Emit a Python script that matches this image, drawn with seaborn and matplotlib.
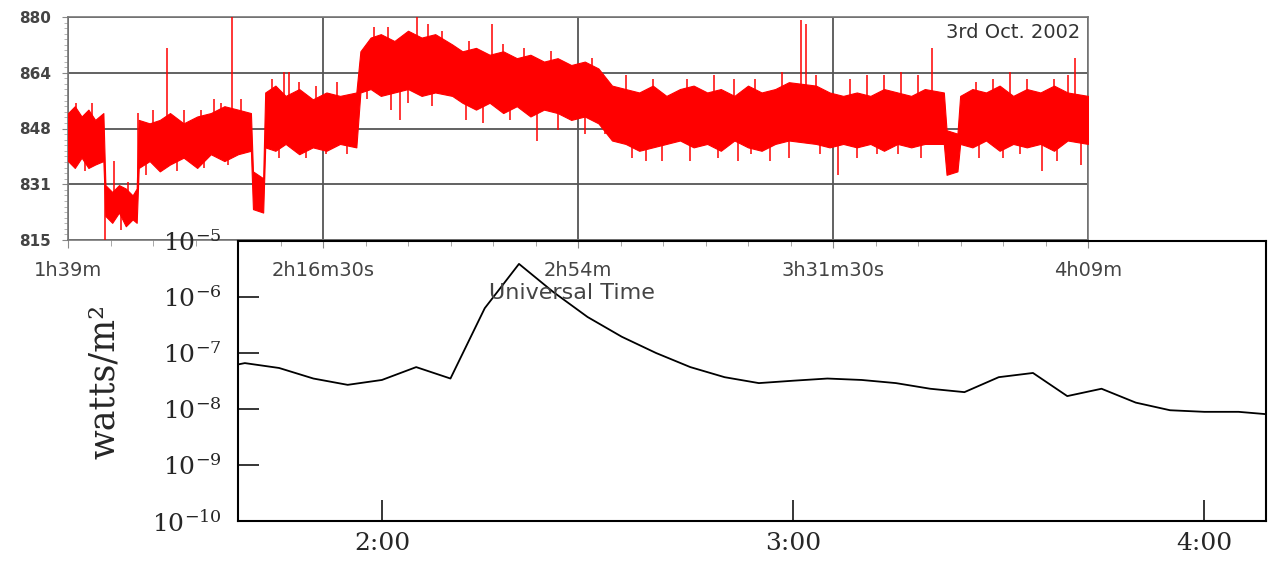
import seaborn as sns
import numpy as np
import matplotlib.pyplot as plt
from matplotlib.ticker import FixedLocator, AutoMinorLocator, LogLocator, NullLocator

sns.set_style("ticks")
plt.rcParams['font.family'] = ['DejaVu Sans']
plt.rcParams['mathtext.fontset'] = 'dejavuserif'

t_band = [99.0, 100.0, 101.0, 102.0, 103.0, 104.2,
          104.5, 105.5, 106.5, 107.5, 108.5, 109.1,
          109.4, 111, 112.5, 114, 116, 118, 120, 122, 124, 125.9,
          126.2, 127.7,
          128.0, 129.5, 131, 133, 135, 137, 139, 141.4,
          142, 143.5, 145, 147, 149, 151, 153, 155.5,
          157, 159, 161, 163, 165, 167, 169, 171, 173, 175, 177,
          179, 181, 183, 185, 187, 189, 191, 193, 195, 197, 199, 201, 203, 205, 209,
          211, 213, 215, 217, 219, 221, 223, 225, 227.8,
          228.2, 229.8,
          230.2, 232, 234, 236, 238, 240, 242, 244, 246, 249]
band_lo = [838, 836, 839, 836, 837, 838,
           822, 820, 823, 819, 821, 820,
           836, 838, 835, 837, 839, 836, 840, 838, 840, 841,
           824, 823,
           842, 841, 843, 840, 842, 841, 843, 842,
           858, 859, 857, 858, 859, 857, 858, 857,
           855, 853, 855, 852, 854, 851, 853, 852, 850, 851, 849,
           844, 843, 841, 842, 843, 844, 842, 843, 841, 844, 842, 841, 843, 844, 843,
           842, 843, 842, 843, 841, 843, 842, 843, 843,
           834, 835,
           843, 842, 844, 841, 843, 842, 843, 841, 844, 843]
band_hi = [852, 854, 851, 853, 850, 852,
           831, 829, 831, 830, 828, 830,
           850, 849, 850, 852, 849, 851, 852, 854, 853, 852,
           835, 833,
           858, 860, 857, 859, 856, 858, 857, 858,
           870, 874, 875, 873, 876, 874, 875, 872,
           870, 871, 869, 870, 868, 869, 867, 868, 866, 867, 865,
           860, 859, 858, 860, 857, 859, 860, 858, 859, 857, 860, 858, 859, 861, 860,
           858, 857, 858, 857, 859, 858, 857, 859, 858,
           847, 846,
           857, 859, 858, 860, 857, 859, 858, 860, 858, 857]

# isolated spikes sticking out of the band (time, lower end, upper end)
spike_t = [100.2, 101.5, 102.5, 104.4, 105.8, 106.8, 107.8, 109.3,
           110.5, 111.5, 113.6, 115, 116, 118.5, 119, 120.5, 121.5, 122.5, 123.1, 124.5,
           129, 130, 130.8, 131.5, 133, 134, 135.5, 137, 138.5, 140,
           143, 144, 146, 146.5, 147.8, 149, 150.3, 152, 152.5, 154,
           157.5, 158, 160, 161.4, 163, 164, 166, 168.0, 170, 171, 175, 176, 178,
           181, 182, 184, 185, 186.4, 190, 190.5, 194, 194.6, 197, 197.6, 199.5, 200,
           202.2, 204, 205, 206.8, 207.5, 209, 209.6,
           212.2, 214, 215, 216.5, 218, 219, 221, 221.5, 224, 224.5, 226.1,
           232.5, 233, 235, 236.5, 237.5, 239, 240, 242.2, 244, 244.5, 246, 247.1, 248]
spike_lo = [848, 835, 848, 815, 825, 818, 826, 830,
            834, 845, 848, 835, 846, 846, 836, 848, 848, 837, 850, 848,
            852, 839, 855, 852, 852, 839, 852, 840, 852, 840,
            856, 868, 868, 853, 850, 855, 870, 868, 854, 868,
            850, 864, 849, 865, 864, 850, 862, 844, 862, 847, 846, 862, 846,
            854, 839, 838, 854, 838, 854, 838, 854, 839, 854, 838, 840, 854,
            838, 854, 839, 855, 855, 854, 840,
            834, 852, 839, 852, 840, 852, 840, 852, 852, 839, 855,
            852, 839, 852, 839, 852, 840, 852, 835, 852, 838, 852, 855, 837]
spike_hi = [855, 846, 855, 831, 838, 826, 832, 852,
            844, 853, 871, 845, 853, 853, 846, 856, 855, 847, 880, 856,
            862, 849, 864, 864, 861, 849, 860, 850, 861, 850,
            866, 877, 877, 864, 862, 866, 880, 878, 865, 876,
            860, 873, 860, 878, 872, 860, 871, 855, 870, 857, 856, 868, 856,
            863, 849, 848, 862, 846, 862, 848, 863, 849, 862, 848, 850, 862,
            846, 864, 849, 879, 878, 863, 850,
            845, 862, 849, 863, 850, 863, 850, 864, 863, 849, 871,
            861, 849, 862, 849, 864, 850, 862, 845, 862, 848, 863, 868, 847]

top_xticks = [99, 136.5, 174, 211.5, 249]
top_xticklabels = ["1h39m", "2h16m30s", "2h54m", "3h31m30s", "4h09m"]
top_yticks = [815, 831.25, 847.5, 863.75, 880]
top_yticklabels = ["815", "831", "848", "864", "880"]

# --- bottom panel: X-ray flux every 5 minutes ---
t_goes = [95, 100, 105, 110, 115, 120, 125, 130, 135, 140, 145, 150, 155, 160,
          165, 170, 175, 180, 185, 190, 195, 200, 205, 210, 215, 220, 225, 230,
          235, 240, 245, 250]
goes_flux = [5.0e-8, 6.6e-8, 5.4e-8, 3.5e-8, 2.7e-8, 3.3e-8, 5.6e-8, 3.5e-8,
             6.3e-7, 3.9e-6, 1.23e-6, 4.4e-7, 1.95e-7, 1.0e-7, 5.6e-8, 3.7e-8,
             2.9e-8, 3.2e-8, 3.5e-8, 3.3e-8, 2.9e-8, 2.3e-8, 2.0e-8, 3.7e-8,
             4.4e-8, 1.7e-8, 2.3e-8, 1.3e-8, 9.5e-9, 8.9e-9, 8.9e-9, 7.9e-9]
bot_xticks = [120, 180, 240]
bot_xticklabels = ["2:00", "3:00", "4:00"]

W, H = 1275, 561
fig = plt.figure(figsize=(W / 100, H / 100), dpi=100)

ax1 = fig.add_axes([68 / W, 1 - 240 / H, 1020 / W, 223 / H])
ax1.fill_between(t_band, band_lo, band_hi, color='#ff0000', lw=0.8, edgecolor='#ff0000', zorder=3)
ax1.vlines(spike_t, spike_lo, spike_hi, color='#ff0000', lw=1.1, zorder=3)
ax1.set_xlim(99, 249)
ax1.set_ylim(815, 880)
ax1.set_xticks(top_xticks)
ax1.set_xticklabels(top_xticklabels)
ax1.set_yticks(top_yticks)
ax1.set_yticklabels(top_yticklabels, fontweight='bold')
ax1.xaxis.set_minor_locator(FixedLocator(np.arange(99, 250, 6.25)))
ax1.yaxis.set_minor_locator(AutoMinorLocator(10))
ax1.grid(True, which='major', color='#555555', lw=1.3, zorder=1)
for s in ax1.spines.values():
    s.set_color('#777777')
    s.set_linewidth(1.2)
ax1.tick_params(axis='x', which='major', length=6, color='#888888', pad=9,
                labelsize=14, labelcolor='#444444')
ax1.tick_params(axis='x', which='minor', length=4, color='#999999')
ax1.tick_params(axis='y', which='major', length=4, color='#888888', pad=8,
                labelsize=11, labelcolor='#444444')
ax1.tick_params(axis='y', which='minor', length=3, color='#aaaaaa')
ax1.text(0.992, 0.93, "3rd Oct. 2002", transform=ax1.transAxes, ha='right', va='center',
         fontsize=14, color='#333333')
fig.text(572 / W, 1 - 293 / H, "Universal Time", ha='center', va='center',
         fontsize=16, color='#444444')

ax2 = fig.add_axes([238 / W, 1 - 521 / H, 1028 / W, 280 / H])
ax2.patch.set_alpha(0)
sns.lineplot(x=t_goes, y=goes_flux, ax=ax2, color='black', lw=1.3)
ax2.set_yscale('log')
ax2.set_xlim(99, 249)
ax2.set_ylim(1e-10, 1e-5)
ax2.yaxis.set_major_locator(LogLocator(base=10, numticks=10))
ax2.yaxis.set_minor_locator(NullLocator())
ax2.set_xticks(bot_xticks)
ax2.set_xticklabels(bot_xticklabels)
for s in ax2.spines.values():
    s.set_color('black')
    s.set_linewidth(1.5)
ax2.tick_params(axis='both', which='major', direction='in', length=15, width=1.3,
                labelsize=18, top=False, right=False)
ax2.tick_params(axis='y', pad=12)
ax2.tick_params(axis='x', pad=8)
for lab in ax2.get_xticklabels() + ax2.get_yticklabels():
    lab.set_family('DejaVu Serif')
fig.text(104 / W, 1 - 381 / H, "watts/m\u00b2", rotation=90, ha='center', va='center',
         fontsize=25, family='DejaVu Serif')

fig.savefig("out.png", dpi=100)
